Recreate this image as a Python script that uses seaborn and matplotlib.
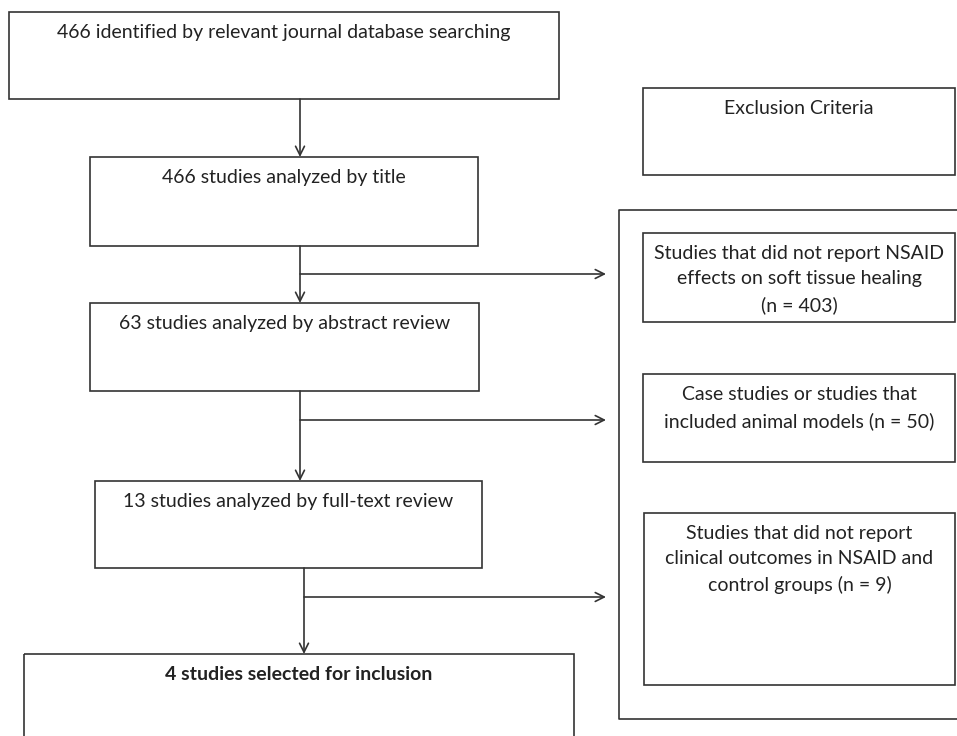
import seaborn as sns
import matplotlib.pyplot as plt
from matplotlib.patches import Rectangle

# flow steps (left column) and exclusion reasons (right column)
flow_labels = [
    "466 identified by relevant journal database searching",
    "466 studies analyzed by title",
    "63 studies analyzed by abstract review",
    "13 studies analyzed by full-text review",
    "4 studies selected for inclusion",
]
excl_title = "Exclusion Criteria"
excl_labels = [
    "Studies that did not report NSAID\neffects on soft tissue healing\n(n = 403)",
    "Case studies or studies that\nincluded animal models (n = 50)",
    "Studies that did not report\nclinical outcomes in NSAID and\ncontrol groups (n = 9)",
]

# layout in pixels: (left, top, right, bottom)
flow_boxes = [(9, 12, 559, 99), (90, 157, 478, 246), (90, 303, 479, 391),
              (95, 481, 482, 568), (24, 654, 574, 760)]
excl_title_box = (643, 88, 955, 175)
excl_boxes = [(643, 233, 955, 322), (643, 374, 955, 462), (644, 513, 955, 685)]
arrow_x = [300, 300, 300, 304]
branch_y = [None, 274, 420, 597]
branch_end = 606

sns.set_theme(style="white")
plt.rcParams["font.family"] = ["Lato", "DejaVu Sans"]

fig = plt.figure(figsize=(9.57, 7.36), dpi=100)
ax = fig.add_axes([0, 0, 1, 1])
ax.set_xlim(0, 957)
ax.set_ylim(736, 0)
ax.axis("off")

edge = "#333333"
fs = 14.0


def box(b, label, bold=False):
    l, t, r, btm = b
    ax.add_patch(Rectangle((l, t), r - l, btm - t, fill=False, ec=edge, lw=1.2))
    ax.text((l + r) / 2, t + 12, label, ha="center", va="top", fontsize=fs,
            color="#222222", linespacing=1.6,
            fontweight="bold" if bold else "normal")


for i, (b, lab) in enumerate(zip(flow_boxes, flow_labels)):
    box(b, lab, bold=(i == len(flow_labels) - 1))

box(excl_title_box, excl_title)
for b, lab in zip(excl_boxes, excl_labels):
    box(b, lab)

# outer panel around the exclusion boxes (open on the right edge)
ax.plot([960, 619, 619, 960], [210, 210, 719, 719], color=edge, lw=1.2)

arrow = dict(arrowstyle="->", color=edge, lw=1.2, mutation_scale=16,
             shrinkA=0, shrinkB=0)
for i in range(4):
    x = arrow_x[i]
    ax.annotate("", xy=(x, flow_boxes[i + 1][1]), xytext=(x, flow_boxes[i][3]),
                arrowprops=arrow)
    if branch_y[i] is not None:
        ax.annotate("", xy=(branch_end, branch_y[i]), xytext=(x, branch_y[i]),
                    arrowprops=arrow)

plt.savefig("out.png", dpi=100)
